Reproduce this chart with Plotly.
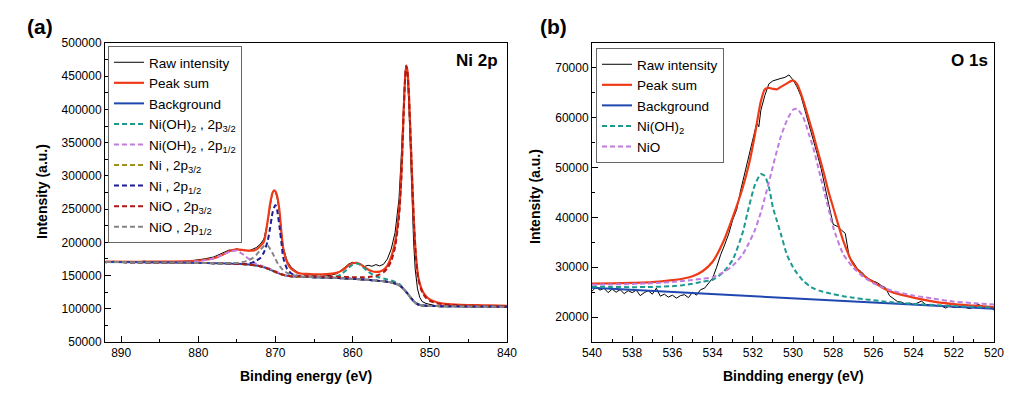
import plotly.graph_objects as go

# ---------------- (a) Ni 2p ----------------
E_raw_a = [892, 891, 890, 889, 888, 887, 886, 885, 884, 883, 882, 881, 880, 879, 878, 877,
           876.5, 876, 875.5, 875, 874.5, 874, 873.5, 873, 872.5, 872, 871.5, 871, 870.7,
           870.4, 870.2, 870, 869.8, 869.5, 869.2, 869, 868.5, 868, 867.5, 867, 866, 865,
           864, 863, 862, 861.5, 861, 860.5, 860, 859.5, 859, 858.5, 858, 857.5, 857, 856.5,
           856, 855.5, 855, 854.5, 854, 853.7, 853.4, 853.2, 853.05, 852.9, 852.7, 852.5,
           852.3, 852.1, 851.9, 851.6, 851.3, 851, 850.5, 850, 849.5, 849, 848, 847, 846,
           845, 844, 843, 842, 841, 840]
raw_a = [169000, 171500, 169500, 171000, 170000, 171800, 169800, 170500, 169200, 171200,
         170400, 172000, 173500, 175500, 178000, 183000, 186000, 188500, 188000, 190500,
         187500, 188500, 187000, 189000, 192000, 197000, 205000, 232000, 257000, 275000,
         279000, 275000, 267000, 247000, 212000, 192000, 172000, 163000, 158000, 154000,
         151500, 150500, 151500, 150000, 153000, 158000, 163000, 167500, 170000, 168500,
         167000, 163500, 165500, 164000, 166500, 164500, 167000, 175000, 190000, 215000,
         265000, 330000, 415000, 458000, 467000, 452000, 400000, 330000, 260000, 200000,
         160000, 130000, 117000, 111000, 108000, 106500, 105000, 104000, 103500, 104500,
         103000, 104000, 102500, 103800, 102800, 103500, 102500]

E_fit_a = [892, 888, 884, 880, 878, 877, 876, 875, 874, 873,
           872.5, 872, 871.5, 871, 870.7, 870.4, 870.2, 870, 869.8, 869.5,
           869.2, 869, 868.5, 868, 867.5, 867, 866, 865, 864, 863,
           862, 861.5, 861, 860.5, 860, 859.5, 859, 858.5, 858, 857.5,
           857, 856.5, 856, 855.5, 855, 854.5, 854, 853.7, 853.4, 853.2,
           853.05, 852.9, 852.7, 852.4, 852.1, 851.8, 851.5, 851, 850.5, 850,
           849, 848, 846, 844, 842, 840]
sum_a = [171000, 170800, 171000, 172500, 176000, 180500, 186500, 189500, 188000, 187500,
         189000, 194000, 201000, 234000, 258000, 274000, 278000, 276500, 270000, 249000,
         210000, 191000, 170000, 160500, 156500, 153500, 152500, 152000, 152000, 152500,
         154500, 157000, 161000, 165500, 168500, 169000, 167000, 163000, 159000, 156500,
         155500, 156000, 158500, 165000, 178000, 200000, 245000, 300000, 395000, 448000,
         466000, 458000, 420000, 330000, 240000, 180000, 148000, 128000, 119000, 114000,
         109500, 107500, 106000, 105500, 105000, 104500]
bg_a = [170500, 170000, 169500, 169000, 168700, 168400, 168000, 167600, 167000, 166000,
        165200, 164000, 162500, 160500, 159000, 157500, 156500, 155500, 154500, 153000,
        151800, 151000, 149800, 149000, 148500, 148200, 147800, 147500, 147200, 146800,
        146300, 146000, 145700, 145400, 145000, 144700, 144300, 143900, 143500, 143000,
        142500, 142000, 141300, 140500, 139500, 138000, 135500, 133000, 129500, 127000,
        125000, 123000, 120000, 115500, 111500, 108500, 106500, 105000, 104500, 104200,
        104000, 103900, 103700, 103500, 103300, 103100]
nioh_32_a = [170500, 170000, 169500, 169000, 168700, 168400, 168000, 167600, 167000, 166000,
             165200, 164000, 162500, 160500, 159000, 157500, 156500, 155500, 154500, 153000,
             151800, 151000, 149800, 149000, 148500, 148200, 147800, 147500, 147200, 147500,
             149000, 152000, 156500, 162000, 166500, 168000, 166000, 161000, 156000, 152000,
             149000, 147000, 145500, 144000, 142500, 140500, 137500, 134500, 130500, 127000,
             125000, 123000, 120000, 115500, 111500, 108500, 106500, 105000, 104500, 104200,
             104000, 103900, 103700, 103500, 103300, 103100]
nioh_12_a = [170500, 170000, 169700, 171500, 176000, 180500, 185500, 187500, 180000, 170500,
             167500, 165500, 163500, 161500, 160000, 158500, 157500, 156500, 155500, 154000,
             151800, 151000, 149800, 149000, 148500, 148200, 147800, 147500, 147200, 146800,
             146300, 146000, 145700, 145400, 145000, 144700, 144300, 143900, 143500, 143000,
             142500, 142000, 141300, 140500, 139500, 138000, 135500, 133000, 129500, 127000,
             125000, 123000, 120000, 115500, 111500, 108500, 106500, 105000, 104500, 104200,
             104000, 103900, 103700, 103500, 103300, 103100]
ni_32_a = [170500, 170000, 169500, 169000, 168700, 168400, 168000, 167600, 167000, 166000,
           165200, 164000, 162500, 160500, 159000, 157500, 156500, 155500, 154500, 153000,
           151800, 151000, 149800, 149000, 148500, 148200, 147800, 147500, 147200, 146800,
           146300, 146000, 145700, 145400, 145000, 144700, 144300, 143900, 143500, 143000,
           142500, 142000, 141300, 140500, 139500, 138000, 135500, 133000, 129500, 127000,
           125000, 123000, 120000, 115500, 111500, 108500, 106500, 105000, 104500, 104200,
           104000, 103900, 103700, 103500, 103300, 103100]
ni_12_a = [170500, 170000, 169500, 169000, 168700, 168400, 168000, 167600, 167500, 169500,
           172500, 176000, 185000, 203000, 222000, 244000, 252000, 256000, 249000, 225000,
           196000, 177000, 160000, 153500, 150500, 149500, 148500, 147500, 147200, 146800,
           146300, 146000, 145700, 145400, 145000, 144700, 144300, 143900, 143500, 143000,
           142500, 142000, 141300, 140500, 139500, 138000, 135500, 133000, 129500, 127000,
           125000, 123000, 120000, 115500, 111500, 108500, 106500, 105000, 104500, 104200,
           104000, 103900, 103700, 103500, 103300, 103100]
nio_32_a = [170500, 170000, 169500, 169000, 168700, 168400, 168000, 167600, 167000, 166000,
            165200, 164000, 162500, 160500, 159000, 157500, 156500, 155500, 154500, 153000,
            151800, 151000, 149800, 149000, 148500, 148800, 148800, 148700, 148500, 148300,
            148000, 147900, 147800, 147700, 147600, 147500, 147500, 147600, 147900, 148500,
            149800, 151800, 155000, 161000, 172000, 193000, 238000, 295000, 392000, 446000,
            465000, 457000, 418000, 328000, 238000, 177000, 145000, 125000, 116500, 112000,
            108000, 106500, 105000, 104500, 104000, 103700]
nio_12_a = [170500, 170000, 169500, 169000, 168700, 168400, 168500, 169000, 171000, 176000,
            181000, 188000, 194500, 195000, 190000, 184000, 179500, 175000, 170000, 165000,
            160500, 158000, 154000, 151500, 150000, 149000, 148300, 147500, 147200, 146800,
            146300, 146000, 145700, 145400, 145000, 144700, 144300, 143900, 143500, 143000,
            142500, 142000, 141300, 140500, 139500, 138000, 135500, 133000, 129500, 127000,
            125000, 123000, 120000, 115500, 111500, 108500, 106500, 105000, 104500, 104200,
            104000, 103900, 103700, 103500, 103300, 103100]

# ---------------- (b) O 1s ----------------
E_raw_b = [540, 539.8, 539.6, 539.4, 539.2, 539, 538.8, 538.6, 538.4, 538.2, 538, 537.8,
           537.6, 537.4, 537.2, 537, 536.8, 536.6, 536.4, 536.2, 536, 535.8, 535.6, 535.4,
           535.2, 535, 534.8, 534.6, 534.4, 534.2, 534, 533.8, 533.6, 533.4, 533.2, 533,
           532.8, 532.6, 532.4, 532.2, 532, 531.8, 531.7, 531.6, 531.4, 531.2, 531, 530.8,
           530.6, 530.4, 530.2, 530, 529.8, 529.6, 529.4, 529.2, 529, 528.8, 528.6, 528.4,
           528.2, 528, 527.8, 527.6, 527.4, 527.2, 527, 526.8, 526.6, 526.4, 526.2, 526,
           525.8, 525.6, 525.4, 525.2, 525, 524.8, 524.6, 524.4, 524.2, 524, 523.6, 523.4,
           523, 522.6, 522.4, 522.2, 522, 521.6, 521.2, 521, 520.8, 520.6, 520.4, 520.2, 520]
raw_b = [25200, 26000, 25400, 25800, 24900, 25600, 25000, 25500, 24700, 25300, 24900, 25400,
         24300, 24900, 25300, 24600, 25800, 24200, 24600, 24000, 24400, 23800, 24300, 24500,
         23900, 25000, 24400, 25500, 25800, 26700, 27800, 30000, 32500, 34500, 36700, 39500,
         41600, 45500, 48800, 52000, 55500, 59000, 58200, 61500, 64500, 66800, 67400, 67700,
         67900, 68100, 68600, 67600, 66200, 64300, 61500, 58800, 55600, 52800, 49800, 46300,
         42200, 38600, 38200, 37500, 36800, 32000, 31000, 29700, 29100, 28200, 27600, 27200,
         26900, 26300, 25900, 24300, 23600, 23100, 23000, 22600, 22800, 22500, 23200, 22500,
         22400, 22200, 21800, 22300, 21900, 22100, 21700, 22000, 22600, 22200, 21800, 22100, 21400]

E_bg_b = [540, 535, 530, 525, 520]
bg_b = [25900, 24850, 23800, 22750, 21650]

E_fit_b = [540, 539, 538, 537, 536, 535.5, 535, 534.5, 534, 533.5, 533, 532.5, 532.2, 531.9,
           531.6, 531.4, 531.2, 531, 530.8, 530.6, 530.3, 530, 529.8, 529.5, 529.2, 529,
           528.7, 528.5, 528.2, 528, 527.5, 527, 526.5, 526, 525.5, 525, 524, 523, 522, 521, 520]
sum_b = [26700, 26750, 26850, 27000, 27400, 27700, 28200, 29200, 31100, 34800, 40000, 46000,
         50500, 56500, 63300, 65700, 66000, 65800, 65700, 66200, 66900, 67500, 66800, 63600,
         59500, 56800, 52300, 49400, 44700, 42000, 35300, 30600, 28400, 27000, 25800, 24900,
         23900, 23100, 22600, 22300, 22000]
nioh_b = [26100, 26050, 26000, 26050, 26200, 26400, 26700, 27100, 27500, 28900, 31500, 37000,
          42000, 46500, 48700, 48300, 46100, 42000, 39300, 36600, 32500, 30000, 28800, 27300,
          26300, 25800, 25300, 25100, 24800, 24600, 24200, 23900, 23600, 23400, 23150, 22950,
          22650, 22400, 22200, 22050, 21900]
nio_b = [26500, 26550, 26650, 26800, 27050, 27250, 27450, 27700, 28000, 28900, 30300, 32600,
         34800, 37400, 41000, 44000, 47000, 50300, 53400, 56300, 59500, 61600, 61800, 60200,
         56600, 54100, 49300, 46000, 41200, 38000, 32600, 29900, 28100, 26800, 25900, 25200,
         24300, 23700, 23100, 22800, 22500]

FONT = "Arial, Liberation Sans, sans-serif"
DASH = "5px,3px"
C_RAW, C_SUM, C_BG = "#000000", "#ee3a16", "#1f47b0"
C_TEAL, C_PURP, C_OLIVE = "#1c9a90", "#c07ce0", "#a09020"
C_NAVY, C_DRED, C_GRAY = "#1c1c96", "#b01818", "#858585"

fig = go.Figure()

def add(x, y, name, color, width, dash=None, xa="x", ya="y", leg="legend", shape="spline"):
    fig.add_trace(go.Scatter(x=x, y=y, name=name, mode="lines", xaxis=xa, yaxis=ya,
                             legend=leg,
                             line=dict(color=color, width=width, dash=dash, shape=shape,
                                       smoothing=0.6 if shape == "spline" else None)))

add(E_raw_a, raw_a, "Raw intensity", C_RAW, 1, shape="linear")
add(E_fit_a, sum_a, "Peak sum", C_SUM, 2.2)
add(E_fit_a, bg_a, "Background", C_BG, 2)
add(E_fit_a, nioh_32_a, "Ni(OH)<sub>2</sub> , 2p<sub>3/2</sub>", C_TEAL, 2, DASH)
add(E_fit_a, nioh_12_a, "Ni(OH)<sub>2</sub> , 2p<sub>1/2</sub>", C_PURP, 2, DASH)
add(E_fit_a, ni_32_a, "Ni , 2p<sub>3/2</sub>", C_OLIVE, 2, DASH)
add(E_fit_a, ni_12_a, "Ni , 2p<sub>1/2</sub>", C_NAVY, 2, DASH)
add(E_fit_a, nio_32_a, "NiO , 2p<sub>3/2</sub>", C_DRED, 2, DASH)
add(E_fit_a, nio_12_a, "NiO , 2p<sub>1/2</sub>", C_GRAY, 2, DASH)

add(E_raw_b, raw_b, "Raw intensity", C_RAW, 1, xa="x2", ya="y2", leg="legend2", shape="linear")
add(E_fit_b, sum_b, "Peak sum", C_SUM, 2.2, xa="x2", ya="y2", leg="legend2")
add(E_bg_b, bg_b, "Background", C_BG, 2, xa="x2", ya="y2", leg="legend2", shape="linear")
add(E_fit_b, nioh_b, "Ni(OH)<sub>2</sub>", C_TEAL, 2, DASH, xa="x2", ya="y2", leg="legend2")
add(E_fit_b, nio_b, "NiO", C_PURP, 2, DASH, xa="x2", ya="y2", leg="legend2")

W, H = 1021, 395
def px(x):
    return x / W
def py(y):
    return 1 - y / H

axis_common = dict(showline=True, linecolor="black", linewidth=1, mirror=True,
                   ticks="inside", ticklen=6, tickcolor="black", showgrid=False,
                   zeroline=False, automargin=False,
                   tickfont=dict(family=FONT, size=12, color="black"))

LEG_FONT = dict(family=FONT, size=13.5, color="black")

fig.update_layout(
    width=W, height=H, autosize=False, margin=dict(l=0, r=0, t=0, b=0, pad=0),
    paper_bgcolor="white", plot_bgcolor="white",
    font=dict(family=FONT, color="black"),
    xaxis=dict(domain=[px(105), px(507)], range=[892.1, 840], anchor="y",
               dtick=10, tick0=840,
               minor=dict(ticks="inside", ticklen=3, tickcolor="black", dtick=5, tick0=840),
               **axis_common),
    yaxis=dict(domain=[py(342), py(43)], range=[50000, 500000], anchor="x",
               dtick=50000, tickformat="d",
               minor=dict(ticks="inside", ticklen=3, tickcolor="black", dtick=25000, tick0=0),
               **axis_common),
    xaxis2=dict(domain=[px(592), px(994)], range=[540, 520], anchor="y2",
                dtick=2, minor=dict(ticks="inside", ticklen=3, tickcolor="black", dtick=1),
                **axis_common),
    yaxis2=dict(domain=[py(342), py(43)], range=[15000, 75000], anchor="x2",
                tickvals=[20000, 30000, 40000, 50000, 60000, 70000], tickformat="d",
                minor=dict(ticks="inside", ticklen=3, tickcolor="black", dtick=5000, tick0=0),
                **axis_common),
    legend=dict(x=px(108), y=py(46), xanchor="left", yanchor="top", bgcolor="white",
                bordercolor="#666666", borderwidth=1, tracegroupgap=0, font=LEG_FONT),
    legend2=dict(x=px(596), y=py(48), xanchor="left", yanchor="top", bgcolor="white",
                 bordercolor="#666666", borderwidth=1, tracegroupgap=0, font=LEG_FONT),
    showlegend=True,
)

ann = [
    dict(text="<b>(a)</b>", x=px(40), y=py(26), size=21),
    dict(text="<b>(b)</b>", x=px(553), y=py(26), size=21),
    dict(text="<b>Ni 2p</b>", x=px(477), y=py(60), size=17),
    dict(text="<b>O 1s</b>", x=px(969), y=py(60), size=17),
    dict(text="<b>Binding energy (eV)</b>", x=px(306), y=py(376), size=14),
    dict(text="<b>Bindding energy (eV)</b>", x=px(793), y=py(376), size=14),
    dict(text="<b>Intensity (a.u.)</b>", x=px(42), y=py(192), size=14, angle=-90),
    dict(text="<b>Intensity (a.u.)</b>", x=px(535), y=py(197), size=14, angle=-90),
]
for a in ann:
    fig.add_annotation(text=a["text"], x=a["x"], y=a["y"], xref="paper", yref="paper",
                       showarrow=False, xanchor="center", yanchor="middle",
                       textangle=a.get("angle", 0),
                       font=dict(family=FONT, size=a.get("size", 18), color="black"))

fig.write_html("out.html", config={"displayModeBar": False},
               post_script="document.body.style.margin='0';document.body.style.overflow='hidden';")
